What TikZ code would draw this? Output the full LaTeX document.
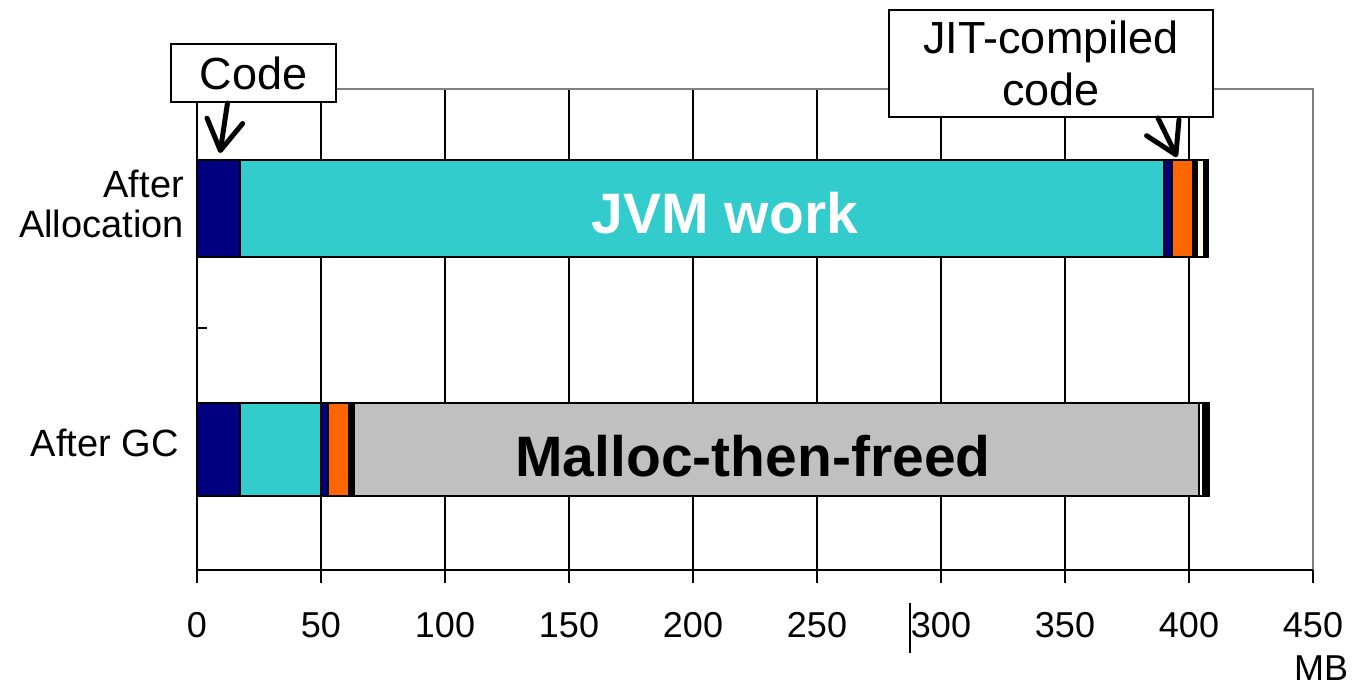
\documentclass[tikz,border=0pt]{standalone}
\usepackage{fontspec}
\setmainfont{Liberation Sans}
\usetikzlibrary{arrows.meta}
\definecolor{codenavy}{RGB}{0,0,128}
\definecolor{jvmcyan}{RGB}{51,204,204}
\definecolor{jitorange}{RGB}{255,102,0}
\definecolor{freedgray}{RGB}{192,192,192}
\definecolor{cream}{RGB}{255,250,232}
\definecolor{framegray}{RGB}{128,128,128}
\begin{document}
\begin{tikzpicture}[x=1pt,y=-1pt,
  grid/.style={draw=black,line width=2pt},
  seg/.style={draw=black,line width=1.6pt},
  ticklabel/.style={font=\fontsize{36}{40}\selectfont,anchor=center,inner sep=0pt},
  catlabel/.style={font=\fontsize{38}{40}\selectfont,align=right,anchor=east,inner sep=0pt},
  barlabel/.style={font=\bfseries\fontsize{57}{60}\selectfont,inner sep=0pt},
  callout/.style={draw=black,line width=2pt,fill=white,align=center,inner sep=0pt,
    font=\fontsize{45}{52}\selectfont},
  pointer/.style={line width=5pt,line cap=round,
    -{Straight Barb[length=30pt,width=36pt,line width=5pt,round]}}]
\useasboundingbox (0,0) rectangle (1355,688);
\fill[white] (0,0) rectangle (1355,688);

% vertical grid lines every 50 MB
\foreach \gx in {321,445,569,693,817,941,1065,1189}
  \draw[grid] (\gx,89) -- (\gx,570);

% plot frame (top and right)
\draw[framegray,line width=2pt] (197,89) -- (1313,89) -- (1313,570);

% category axis with its middle tick
\draw[black,line width=2pt] (197,89) -- (197,570);
\draw[black,line width=2pt] (197,328) -- (207,328);

% value axis with ticks
\draw[black,line width=2pt] (197,570) -- (1313,570);
\foreach \gx/\lab in {197/0,321/50,445/100,569/150,693/200,817/250,941/300,1065/350,1189/400,1313/450}{
  \draw[black,line width=2pt] (\gx,570) -- (\gx,583);
  \node[ticklabel] (t\lab) at (\gx,625) {\lab};
}
\draw[black,line width=1.5pt] (910,603) -- (910,653);
\node[ticklabel] (unit) at (1321,668) {MB};

% bar: after allocation
\path[seg,fill=codenavy]  (197,160) rectangle (240,257);
\path[seg,fill=jvmcyan]   (240,160) rectangle (1164,257);
\path[seg,fill=codenavy]  (1164,160) rectangle (1172,257);
\path[seg,fill=jitorange] (1172,160) rectangle (1193,257);
\path[seg,fill=black]     (1193,160) rectangle (1197,257);
\path[seg,fill=cream]     (1197,160) rectangle (1204,257);
\path[seg,fill=black]     (1204,160) rectangle (1208,257);
\node[barlabel,text=white] (jvm) at (725,213) {JVM work};

% bar: after GC
\path[seg,fill=codenavy]  (197,403) rectangle (240,496);
\path[seg,fill=jvmcyan]   (240,403) rectangle (321,496);
\path[seg,fill=codenavy]  (321,403) rectangle (328,496);
\path[seg,fill=jitorange] (328,403) rectangle (349,496);
\path[seg,fill=black]     (349,403) rectangle (354,496);
\path[seg,fill=freedgray] (354,403) rectangle (1199,496);
\path[seg,fill=white]     (1199,403) rectangle (1203,496);
\path[seg,fill=black]     (1203,403) rectangle (1209,496);
\node[barlabel,text=black] (freed) at (753,456) {Malloc-then-freed};

% category labels
\node[catlabel] (alloc) at (184,204) {After\\Allocation};
\node[catlabel] (gc) at (179,443) {After GC};

% callouts
\node[callout,minimum width=165pt,minimum height=58pt] (code) at (253.5,73) {Code};
\node[callout,minimum width=324pt,minimum height=107pt] (jit) at (1051,63.5) {JIT-compiled\\code};
\coordinate (codetip) at (220,153);
\coordinate (jittip) at (1177,157);
\draw[pointer] ([xshift=-26pt]code.south) -- (codetip);
\draw[pointer] ([xshift=107pt]jit.south) -- (jittip);
\end{tikzpicture}
\end{document}
